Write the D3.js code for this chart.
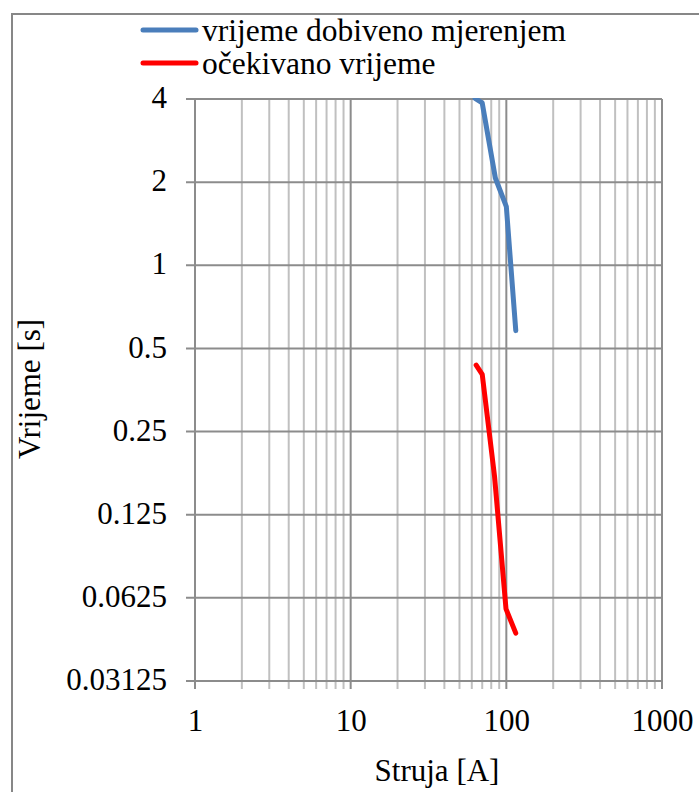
<!DOCTYPE html>
<html>
<head>
<meta charset="utf-8">
<script src="https://cdn.jsdelivr.net/npm/d3@7"></script>
</head>
<body style="margin:0">
<svg id="chart" width="699" height="792"></svg>
<script>
// Struja [A] against vrijeme [s] for the measured and the expected tripping time
const measuredCurrent = [63, 70, 85, 100, 115];
const measuredTime    = [4.02, 3.87, 2.07, 1.63, 0.58];
const expectedCurrent = [64, 70, 84, 99.5, 115];
const expectedTime    = [0.435, 0.403, 0.172, 0.057, 0.0466];

const xTicks = [1, 10, 100, 1000];
const yTicks = [4, 2, 1, 0.5, 0.25, 0.125, 0.0625, 0.03125];
const yTickLabels = ["4", "2", "1", "0.5", "0.25", "0.125", "0.0625", "0.03125"];

const seriesNames  = ["vrijeme dobiveno mjerenjem", "očekivano vrijeme"];
const seriesColors = ["#4a7ebb", "#ff0000"];

const FONT = "Liberation Serif";

const svg = d3.select("#chart");
const plot = { left: 195, right: 662, top: 99, bottom: 681 };

const x = d3.scaleLog().domain([1, 1000]).range([plot.left, plot.right]);
const y = d3.scaleLog().base(2).domain([0.03125, 4]).range([plot.bottom, plot.top]);

// outer chart frame (only its top and left edges fall inside the page)
svg.append("rect")
  .attr("x", 12).attr("y", 14).attr("width", 900).attr("height", 900)
  .attr("fill", "none").attr("stroke", "#878787").attr("stroke-width", 2);

// minor vertical gridlines (2..9 in every decade)
const minorX = [];
for (let d = 1; d < 1000; d *= 10) for (let k = 2; k <= 9; k++) minorX.push(d * k);

const grid = svg.append("g");
grid.selectAll("line.minor").data(minorX).join("line")
  .attr("class", "minor")
  .attr("x1", d => x(d)).attr("x2", d => x(d))
  .attr("y1", plot.top).attr("y2", plot.bottom + 8)
  .attr("stroke", "#c0c0c0").attr("stroke-width", 2);

grid.selectAll("line.hz").data(yTicks).join("line")
  .attr("class", "hz")
  .attr("x1", plot.left - 9).attr("x2", plot.right)
  .attr("y1", d => y(d)).attr("y2", d => y(d))
  .attr("stroke", "#8c8c8c").attr("stroke-width", 2);

grid.selectAll("line.major").data(xTicks).join("line")
  .attr("class", "major")
  .attr("x1", d => x(d)).attr("x2", d => x(d))
  .attr("y1", plot.top).attr("y2", plot.bottom + 8)
  .attr("stroke", "#8c8c8c").attr("stroke-width", 2);

// axis tick labels
const yAxis = d3.axisLeft(y).tickValues(yTicks)
  .tickFormat((d, i) => yTickLabels[i]).tickSize(0).tickPadding(28);
const gy = svg.append("g").attr("transform", `translate(${plot.left},0)`).call(yAxis);
gy.select(".domain").remove();
gy.selectAll("text")
  .attr("dy", "0.28em")
  .attr("fill", "#000")
  .attr("font-size", 31)
  .style("font-family", FONT);

const xAxis = d3.axisBottom(x).tickValues(xTicks).tickFormat(d3.format("d"))
  .tickSize(0);
const gx = svg.append("g").attr("transform", `translate(0,${plot.bottom})`).call(xAxis);
gx.select(".domain").remove();
gx.selectAll("text")
  .attr("y", 50).attr("dy", null)
  .attr("fill", "#000")
  .attr("font-size", 31)
  .style("font-family", FONT);

// axis titles
svg.append("text")
  .attr("x", 437).attr("y", 781)
  .attr("text-anchor", "middle")
  .attr("font-size", 31)
  .style("font-family", FONT)
  .text("Struja [A]");

svg.append("text")
  .attr("transform", "translate(40,389) rotate(-90)")
  .attr("text-anchor", "middle")
  .attr("font-size", 31)
  .style("font-family", FONT)
  .text("Vrijeme [s]");

// data lines
svg.append("clipPath").attr("id", "plotclip")
  .append("rect").attr("x", plot.left).attr("y", plot.top - 1)
  .attr("width", plot.right - plot.left).attr("height", plot.bottom - plot.top + 1);

const line = d3.line().x(d => x(d[0])).y(d => y(d[1]));
const series = [
  d3.zip(measuredCurrent, measuredTime),
  d3.zip(expectedCurrent, expectedTime)
];
svg.append("g").attr("clip-path", "url(#plotclip)")
  .selectAll("path").data(series).join("path")
  .attr("d", line)
  .attr("fill", "none")
  .attr("stroke", (d, i) => seriesColors[i])
  .attr("stroke-width", 5)
  .attr("stroke-linejoin", "round")
  .attr("stroke-linecap", "round");

// legend
const legend = svg.append("g");
seriesNames.forEach((name, i) => {
  const cy = 30 + i * 33;
  legend.append("line")
    .attr("x1", 143).attr("x2", 196).attr("y1", cy).attr("y2", cy)
    .attr("stroke", seriesColors[i]).attr("stroke-width", 5)
    .attr("stroke-linecap", "round");
  legend.append("text")
    .attr("x", 202).attr("y", cy + 11)
    .attr("font-size", 31.5)
    .style("font-family", FONT)
    .text(name);
});
</script>
</body>
</html>
